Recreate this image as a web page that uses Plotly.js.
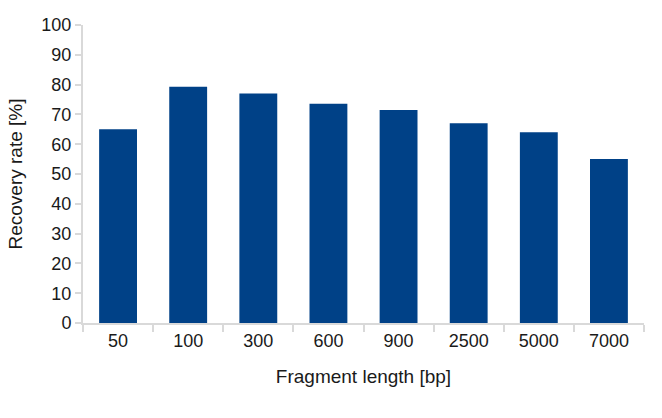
<!DOCTYPE html>
<html>
<head>
<meta charset="utf-8">
<script src="https://cdn.plot.ly/plotly-3.0.1.min.js"></script>
<style>html,body{margin:0;padding:0;background:#fff;}#chart{width:662px;height:418px;}</style>
</head>
<body>
<div id="chart"></div>
<script>
const categories = ["50", "100", "300", "600", "900", "2500", "5000", "7000"];
const recoveryRate = [65, 79.3, 77, 73.6, 71.5, 67, 64, 55];
const yTicks = [0, 10, 20, 30, 40, 50, 60, 70, 80, 90, 100];

const font = "Liberation Sans, Arial, Helvetica, sans-serif";
Plotly.newPlot("chart", [{
  type: "bar",
  x: categories,
  y: recoveryRate,
  marker: {color: "#004187"},
  hoverinfo: "x+y"
}], {
  width: 662, height: 418,
  margin: {l: 83, r: 18, t: 25, b: 95},
  paper_bgcolor: "#ffffff", plot_bgcolor: "#ffffff",
  bargap: 0.46,
  font: {family: font, size: 18, color: "#1a1a1a"},
  xaxis: {
    type: "category",
    showline: true, linecolor: "#d9d9d9", linewidth: 2,
    ticks: "outside", tickson: "boundaries", ticklen: 7, tickcolor: "#d9d9d9", tickwidth: 2,
    showgrid: false,
    tickfont: {family: font, size: 18, color: "#1a1a1a"},
    title: {text: "Fragment length [bp]", font: {family: font, size: 19, color: "#1a1a1a"}, standoff: 20}
  },
  yaxis: {
    range: [0, 100],
    tickvals: yTicks,
    ticktext: yTicks.map(String),
    showline: true, linecolor: "#d9d9d9", linewidth: 2,
    ticks: "outside", ticklen: 6, tickcolor: "#d9d9d9", tickwidth: 2,
    showgrid: false, zeroline: false,
    tickfont: {family: font, size: 18, color: "#1a1a1a"},
    title: {text: "Recovery rate [%]", font: {family: font, size: 19, color: "#1a1a1a"}, standoff: 14}
  },
  showlegend: false
}, {displayModeBar: false, staticPlot: true});
</script>
</body>
</html>
